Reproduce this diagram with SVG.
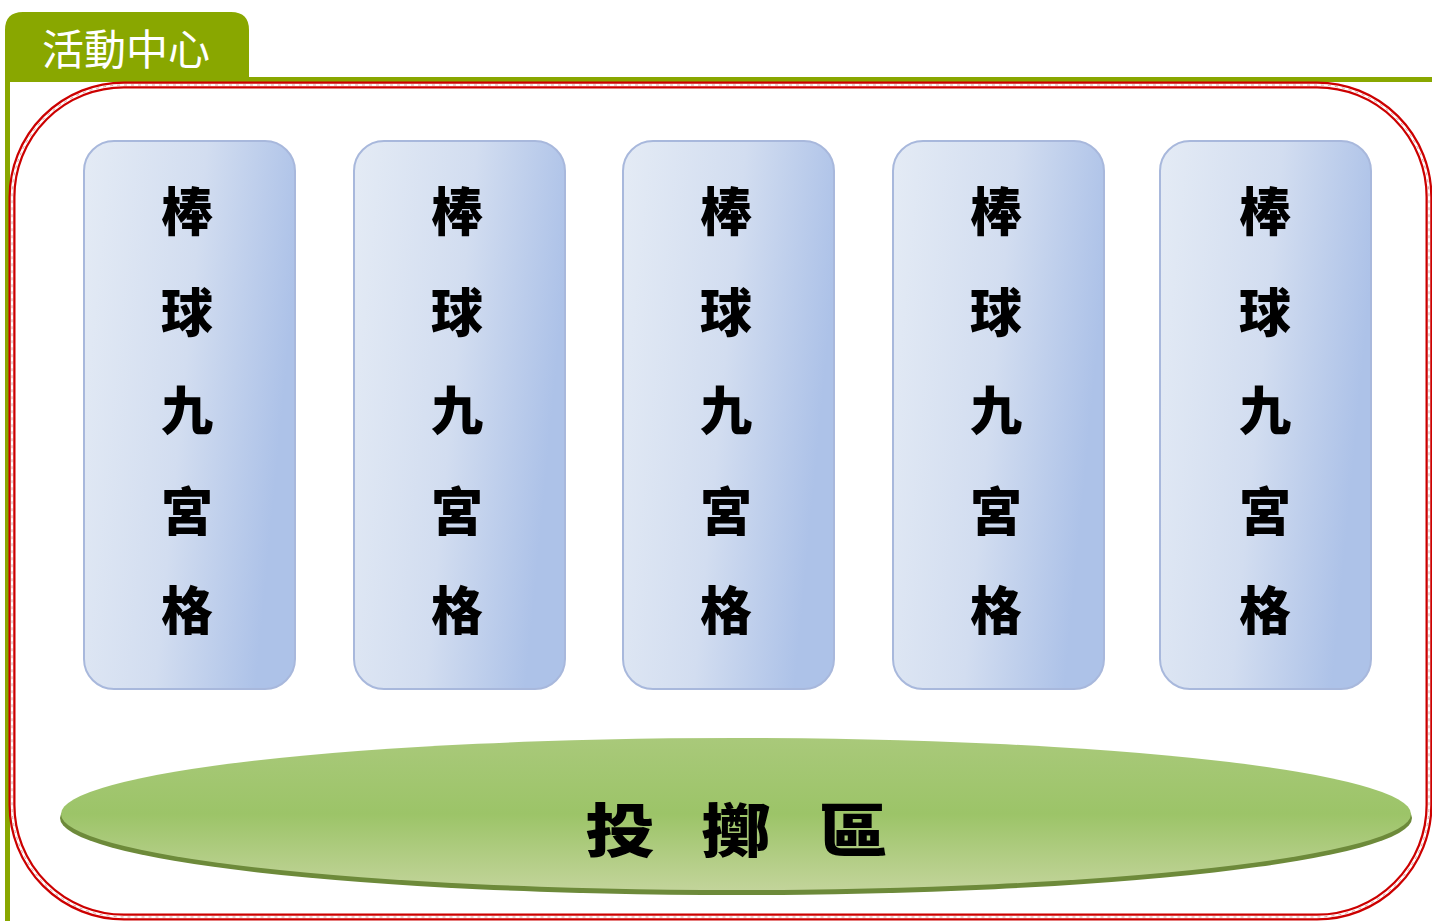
<svg xmlns="http://www.w3.org/2000/svg" width="1432" height="921" viewBox="0 0 1432 921">
<defs>
<linearGradient id="blueG" x1="0" y1="0" x2="1" y2="0.25">
<stop offset="0" stop-color="#e4ebf5"/>
<stop offset="0.55" stop-color="#d2ddf0"/>
<stop offset="1" stop-color="#adc2e8"/>
</linearGradient>
<linearGradient id="greenG" x1="0" y1="0" x2="0" y2="1">
<stop offset="0" stop-color="#a9c97a"/>
<stop offset="0.5" stop-color="#9cc468"/>
<stop offset="1" stop-color="#c2d49a"/>
</linearGradient>
<style>
.col rect { fill: url(#blueG); stroke: #a8b8dc; stroke-width: 2; }
.ch { font-family: "Noto Sans CJK TC", "Noto Sans CJK SC", sans-serif; font-weight: 900; font-size: 52px; fill: #000; text-anchor: middle; }
.big { font-family: "Noto Sans CJK TC", "Noto Sans CJK SC", sans-serif; font-weight: 900; font-size: 58px; fill: #000; text-anchor: middle; }
</style>
</defs>
<rect width="1432" height="921" fill="#fff"/>
<g id="frame">
<path d="M5 82 V30 Q5 12 23 12 H231 Q249 12 249 30 V77 H1432 V82 H10 V921 H5 Z" fill="#89a700"/>
<text x="42" y="65" font-family="Noto Sans CJK TC, Noto Sans CJK SC, sans-serif" font-size="42" fill="#fff">活動中心</text>
</g>
<g id="border" fill="none">
<rect x="12" y="85" width="1417" height="832" rx="112" stroke="#cc0000" stroke-width="7"/>
<rect x="12" y="85" width="1417" height="832" rx="112" stroke="#ffffff" stroke-width="2.5"/>
<rect x="12" y="85" width="1417" height="832" rx="112" stroke="#dda0a0" stroke-width="1" stroke-dasharray="3 4"/>
</g>
<g id="col1" class="col"><rect x="84" y="141" width="211" height="548" rx="30"/>
<text class="ch" x="187" y="231">棒</text><text class="ch" x="187" y="332">球</text><text class="ch" x="187" y="430">九</text><text class="ch" x="187" y="531">宮</text><text class="ch" x="187" y="630">格</text></g>
<g id="col2" class="col"><rect x="354" y="141" width="211" height="548" rx="30"/>
<text class="ch" x="457" y="231">棒</text><text class="ch" x="457" y="332">球</text><text class="ch" x="457" y="430">九</text><text class="ch" x="457" y="531">宮</text><text class="ch" x="457" y="630">格</text></g>
<g id="col3" class="col"><rect x="623" y="141" width="211" height="548" rx="30"/>
<text class="ch" x="726" y="231">棒</text><text class="ch" x="726" y="332">球</text><text class="ch" x="726" y="430">九</text><text class="ch" x="726" y="531">宮</text><text class="ch" x="726" y="630">格</text></g>
<g id="col4" class="col"><rect x="893" y="141" width="211" height="548" rx="30"/>
<text class="ch" x="996" y="231">棒</text><text class="ch" x="996" y="332">球</text><text class="ch" x="996" y="430">九</text><text class="ch" x="996" y="531">宮</text><text class="ch" x="996" y="630">格</text></g>
<g id="col5" class="col"><rect x="1160" y="141" width="211" height="548" rx="30"/>
<text class="ch" x="1265" y="231">棒</text><text class="ch" x="1265" y="332">球</text><text class="ch" x="1265" y="430">九</text><text class="ch" x="1265" y="531">宮</text><text class="ch" x="1265" y="630">格</text></g>
<g id="throw">
<ellipse cx="736" cy="818" rx="676" ry="77" fill="#6d8a3a"/>
<ellipse cx="736" cy="814" rx="675" ry="76" fill="url(#greenG)"/>
<text class="big" transform="translate(620 852) scale(1.2 1)">投</text>
<text class="big" transform="translate(736 852) scale(1.2 1)">擲</text>
<text class="big" transform="translate(853 852) scale(1.2 1)">區</text>
</g>
</svg>
